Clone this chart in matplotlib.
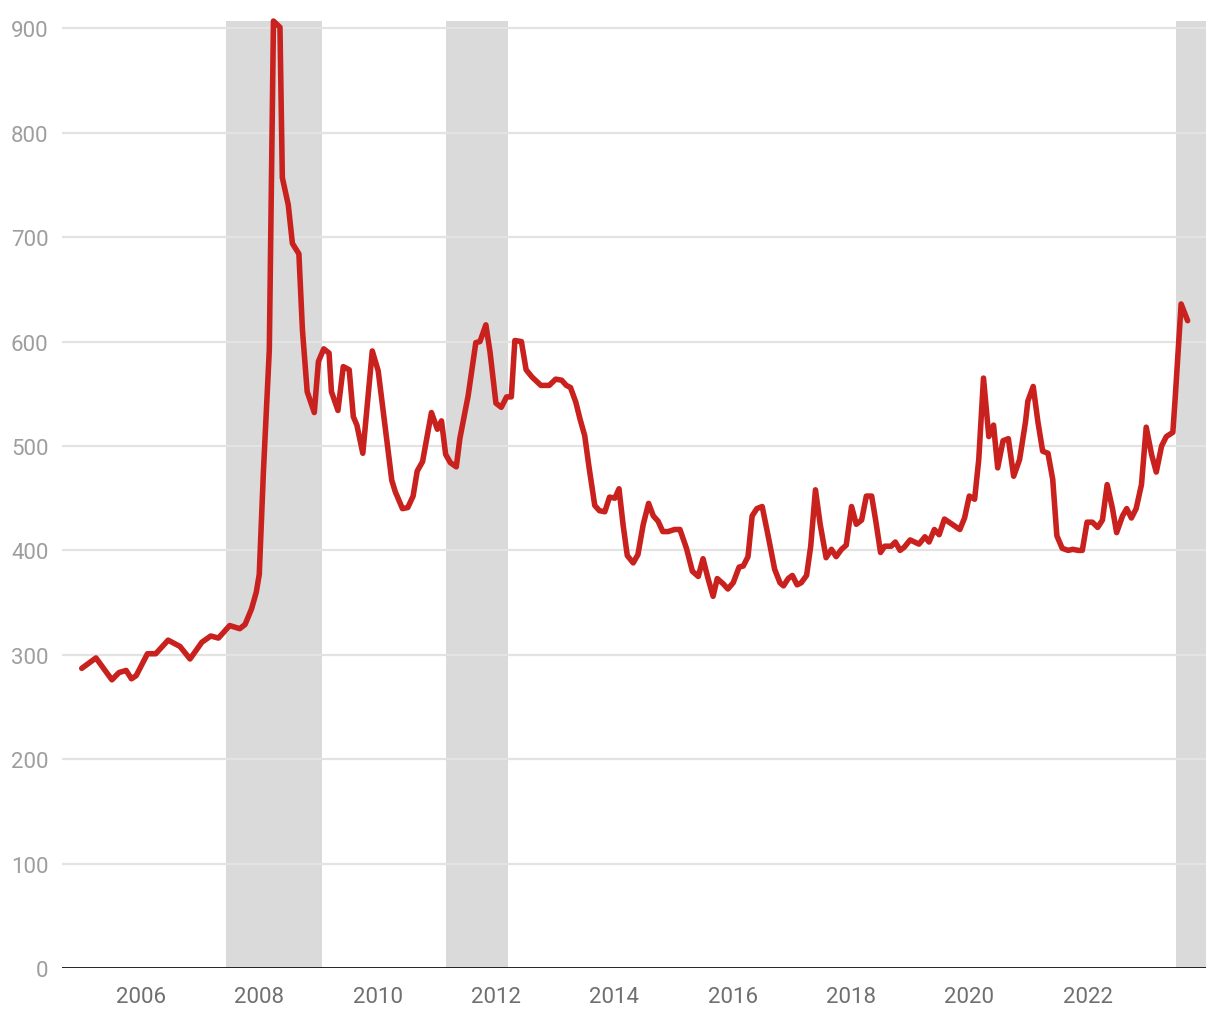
import matplotlib.pyplot as plt

plt.rcParams['font.family'] = ['Roboto', 'DejaVu Sans']

# decimal year of each turning point
years = [
    2005.00, 2005.24, 2005.51, 2005.63, 2005.75, 2005.84, 2005.92, 2006.11, 2006.25, 2006.46,
    2006.66, 2006.83, 2007.03, 2007.18, 2007.31, 2007.50, 2007.67, 2007.76, 2007.87, 2007.95,
    2008.00, 2008.07, 2008.17, 2008.24, 2008.35, 2008.39, 2008.49, 2008.56, 2008.67, 2008.73,
    2008.81, 2008.93, 2009.00, 2009.09, 2009.18, 2009.22, 2009.33, 2009.42, 2009.52, 2009.59,
    2009.65, 2009.75, 2009.91, 2010.01, 2010.24, 2010.30, 2010.42, 2010.51, 2010.60, 2010.67,
    2010.76, 2010.91, 2011.01, 2011.08, 2011.15, 2011.23, 2011.33, 2011.39, 2011.53, 2011.66,
    2011.73, 2011.83, 2011.90, 2012.00, 2012.09, 2012.18, 2012.26, 2012.32, 2012.43, 2012.51,
    2012.61, 2012.76, 2012.90, 2013.01, 2013.11, 2013.19, 2013.26, 2013.35, 2013.42, 2013.50,
    2013.57, 2013.67, 2013.75, 2013.84, 2013.92, 2014.01, 2014.08, 2014.15, 2014.22, 2014.32,
    2014.40, 2014.49, 2014.58, 2014.66, 2014.74, 2014.82, 2014.91, 2015.02, 2015.11, 2015.22,
    2015.32, 2015.42, 2015.50, 2015.58, 2015.67, 2015.74, 2015.84, 2015.92, 2016.01, 2016.11,
    2016.18, 2016.26, 2016.33, 2016.41, 2016.50, 2016.60, 2016.71, 2016.80, 2016.86, 2016.94,
    2017.01, 2017.09, 2017.16, 2017.25, 2017.32, 2017.40, 2017.48, 2017.58, 2017.67, 2017.75,
    2017.84, 2017.92, 2018.01, 2018.09, 2018.18, 2018.26, 2018.35, 2018.42, 2018.50, 2018.57,
    2018.68, 2018.75, 2018.83, 2018.90, 2019.00, 2019.15, 2019.25, 2019.32, 2019.41, 2019.49,
    2019.58, 2019.84, 2019.92, 2020.00, 2020.09, 2020.16, 2020.24, 2020.33, 2020.41, 2020.48,
    2020.57, 2020.66, 2020.75, 2020.85, 2020.95, 2020.99, 2021.08, 2021.16, 2021.24, 2021.33,
    2021.41, 2021.48, 2021.57, 2021.67, 2021.75, 2021.84, 2021.91, 2021.99, 2022.08, 2022.17,
    2022.25, 2022.33, 2022.42, 2022.49, 2022.59, 2022.66, 2022.74, 2022.82, 2022.91, 2022.99,
    2023.08, 2023.16, 2023.25, 2023.33, 2023.44, 2023.48, 2023.58, 2023.69,
]

values = [
    287, 297, 276, 283, 285, 277, 280, 301, 301, 314,
    308, 296, 312, 318, 316, 328, 325, 329, 344, 360,
    377, 475, 592, 907, 901, 757, 731, 694, 684, 611,
    552, 532, 581, 593, 589, 552, 534, 576, 573, 528,
    520, 493, 591, 572, 467, 456, 440, 441, 452, 476,
    485, 532, 516, 524, 492, 484, 480, 507, 548, 599,
    600, 616, 590, 541, 537, 547, 547, 601, 600, 573,
    566, 558, 558, 564, 563, 558, 556, 542, 526, 510,
    481, 443, 438, 437, 451, 450, 459, 424, 395, 388,
    396, 425, 445, 433, 428, 418, 418, 420, 420, 402,
    380, 375, 392, 374, 356, 373, 368, 363, 369, 384,
    385, 394, 433, 440, 442, 414, 382, 369, 366, 373,
    376, 367, 369, 376, 404, 458, 425, 393, 401, 394,
    401, 405, 442, 425, 429, 452, 452, 428, 398, 404,
    404, 408, 400, 403, 410, 406, 413, 408, 420, 415,
    430, 420, 431, 452, 449, 487, 565, 509, 520, 479,
    505, 507, 471, 487, 523, 543, 557, 523, 495, 493,
    468, 414, 402, 400, 401, 400, 400, 427, 427, 422,
    429, 463, 440, 417, 433, 440, 431, 440, 463, 518,
    492, 475, 500, 509, 513, 546, 636, 620,
]

# shaded periods (start, end)
shade_start = [2007.44, 2011.15, 2023.49]
shade_end = [2009.06, 2012.20, 2024.10]

year_ticks = [2006, 2008, 2010, 2012, 2014, 2016, 2018, 2020, 2022]
value_ticks = [0, 100, 200, 300, 400, 500, 600, 700, 800, 900]

fig = plt.figure(figsize=(12.2, 10.2), dpi=100)
ax = fig.add_axes([0.051, 0.05, 0.9375, 0.9284])

for s, e in zip(shade_start, shade_end):
    ax.axvspan(s, e, color="#dadada", lw=0, zorder=1)

for v in value_ticks[1:]:
    ax.axhline(v, color="#e3e3e3", lw=1.6, zorder=2)
ax.axhline(0, color="#111111", lw=2, zorder=4)

ax.plot(years, values, color="#c9211e", lw=4, solid_joinstyle="round",
        solid_capstyle="round", zorder=3, clip_on=False)

ax.set_xlim(2004.67, 2024.0)
ax.set_ylim(0, 907)
ax.set_xticks(year_ticks)
ax.set_xticklabels([str(y) for y in year_ticks])
ax.set_yticks(value_ticks)
ax.set_yticklabels([str(v) for v in value_ticks])
ax.tick_params(axis="x", length=0, pad=13, labelsize=16, labelcolor="#6f6f6f")
ax.tick_params(axis="y", length=0, pad=10, labelsize=16, labelcolor="#9e9e9e")
for sp in ax.spines.values():
    sp.set_visible(False)

fig.savefig("out.png", dpi=100, facecolor="white")
